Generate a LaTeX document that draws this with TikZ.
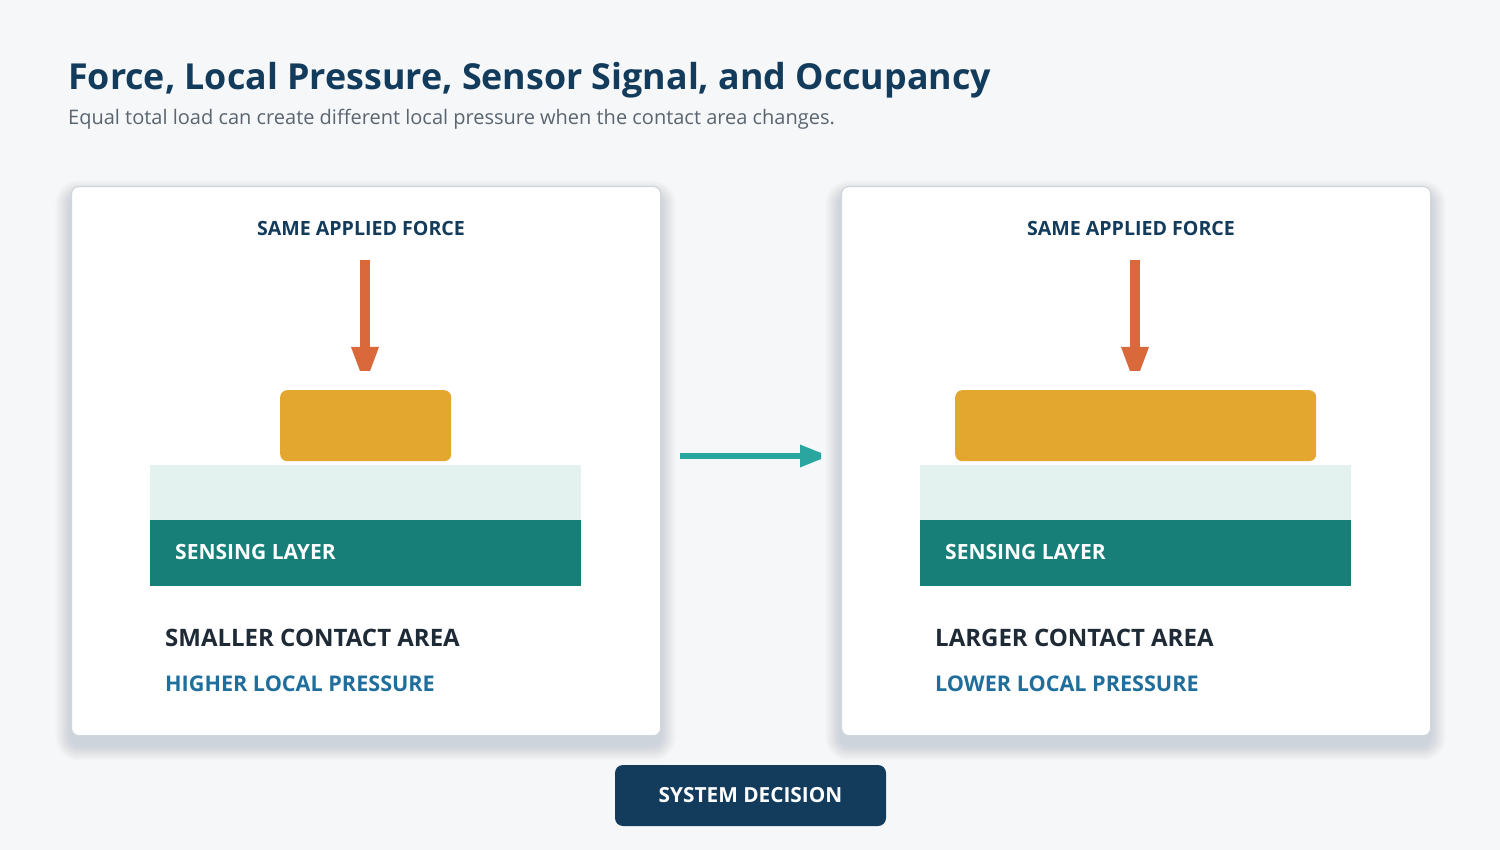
\documentclass[tikz,border=0pt]{standalone}
\usepackage{fontspec}
\setmainfont{Open Sans}
\usetikzlibrary{arrows.meta}
\definecolor{bg}{HTML}{F5F7F9}
\definecolor{navy}{HTML}{133B5C}
\definecolor{subgray}{HTML}{5A6570}
\definecolor{cardline}{HTML}{CFD7DD}
\definecolor{forcec}{HTML}{D9683A}
\definecolor{goldc}{HTML}{E3A72F}
\definecolor{lightband}{HTML}{E3F2EF}
\definecolor{tealband}{HTML}{177E78}
\definecolor{tealarrow}{HTML}{2AA6A0}
\definecolor{darktext}{HTML}{1E2A35}
\definecolor{bluetext}{HTML}{1F6E9C}
\definecolor{shadowc}{HTML}{4A5A68}
\tikzset{
  card/.style={draw=cardline, line width=1.2pt, fill=white, rounded corners=7pt},
  block/.style={fill=goldc, rounded corners=7pt},
  forceshaft/.style={draw=forcec, line width=10pt},
  headlabel/.style={font=\bfseries\fontsize{19.6}{22}\selectfont, text=navy, anchor=base, inner sep=0},
  layerlabel/.style={font=\bfseries\fontsize{21}{24}\selectfont, text=white, anchor=base west, inner sep=0},
  arealabel/.style={font=\bfseries\fontsize{24}{28}\selectfont, text=darktext, anchor=base west, inner sep=0},
  pressurelabel/.style={font=\bfseries\fontsize{21.6}{26}\selectfont, text=bluetext, anchor=base west, inner sep=0},
}
\newcommand{\cardshadow}[4]{% x1 y1 x2 y2
  \foreach \i in {1,...,20}{
    \fill[shadowc, opacity=0.006, rounded corners=8pt+0.8*\i pt]
      ({#1-0.8*\i},{#2+10-0.8*\i}) rectangle ({#3+0.8*\i},{#4+10+0.8*\i});
  }
}
\begin{document}
\begin{tikzpicture}[x=1pt,y=-1pt]
\fill[bg] (0,0) rectangle (1500,850);
\useasboundingbox (0,0) rectangle (1500,850);
% title
\node[anchor=base west, inner sep=0, text=navy, font=\bfseries\fontsize{35.8}{42}\selectfont] (title) at (68,90) {Force, Local Pressure, Sensor Signal, and Occupancy};
\node[anchor=base west, inner sep=0, text=subgray, font=\fontsize{20}{24}\selectfont] (subtitle) at (68,125) {Equal total load can create different local pressure when the contact area changes.};
% card shadows
\cardshadow{71}{186}{660}{735}
\cardshadow{841}{186}{1430}{735}
% cards
\node[card, minimum width=589pt, minimum height=549pt, anchor=north west, inner sep=0] (cardL) at (71,186) {};
\node[card, minimum width=589pt, minimum height=549pt, anchor=north west, inner sep=0] (cardR) at (841,186) {};
% left panel
\node[headlabel] (headL) at (361,236) {SAME APPLIED FORCE};
\coordinate (ftopL) at (365,260);
\coordinate (fendL) at (365,371);
\node[block, minimum width=171pt, minimum height=71pt, anchor=north west, inner sep=0] (blockL) at (280,390) {};
\draw[forceshaft] (ftopL) -- (fendL);
\fill[forcec] (351,347) -- (379,347) -- (370,371) -- (360,371) -- cycle;
\fill[lightband] (150,465) rectangle (581,520);
\node[fill=tealband, minimum width=431pt, minimum height=66pt, anchor=north west, inner sep=0] (layerL) at (150,520) {};
\node[layerlabel] (layertextL) at (175,559) {SENSING LAYER};
\node[arealabel] (areaL) at (165,646) {SMALLER CONTACT AREA};
\node[pressurelabel] (pressL) at (165,691) {HIGHER LOCAL PRESSURE};
% right panel
\node[headlabel] (headR) at (1131,236) {SAME APPLIED FORCE};
\coordinate (ftopR) at (1135,260);
\coordinate (fendR) at (1135,371);
\node[block, minimum width=361pt, minimum height=71pt, anchor=north west, inner sep=0] (blockR) at (955,390) {};
\draw[forceshaft] (ftopR) -- (fendR);
\fill[forcec] (1121,347) -- (1149,347) -- (1140,371) -- (1130,371) -- cycle;
\fill[lightband] (920,465) rectangle (1351,520);
\node[fill=tealband, minimum width=431pt, minimum height=66pt, anchor=north west, inner sep=0] (layerR) at (920,520) {};
\node[layerlabel] (layertextR) at (945,559) {SENSING LAYER};
\node[arealabel] (areaR) at (935,646) {LARGER CONTACT AREA};
\node[pressurelabel] (pressR) at (935,691) {LOWER LOCAL PRESSURE};
% middle arrow
\coordinate (midS) at (680,456);
\coordinate (midE) at (821,456);
\draw[tealarrow, line width=6pt] (midS) -- (midE);
\fill[tealarrow] (800,444.5) -- (800,467.5) -- (821,459) -- (821,453) -- cycle;
% system decision
\node[fill=navy, rounded corners=8pt, minimum width=271pt, minimum height=61pt, inner sep=0, text=white, font=\bfseries\fontsize{20.8}{24}\selectfont] (decision) at (750.5,795.5) {SYSTEM DECISION};
\end{tikzpicture}
\end{document}
